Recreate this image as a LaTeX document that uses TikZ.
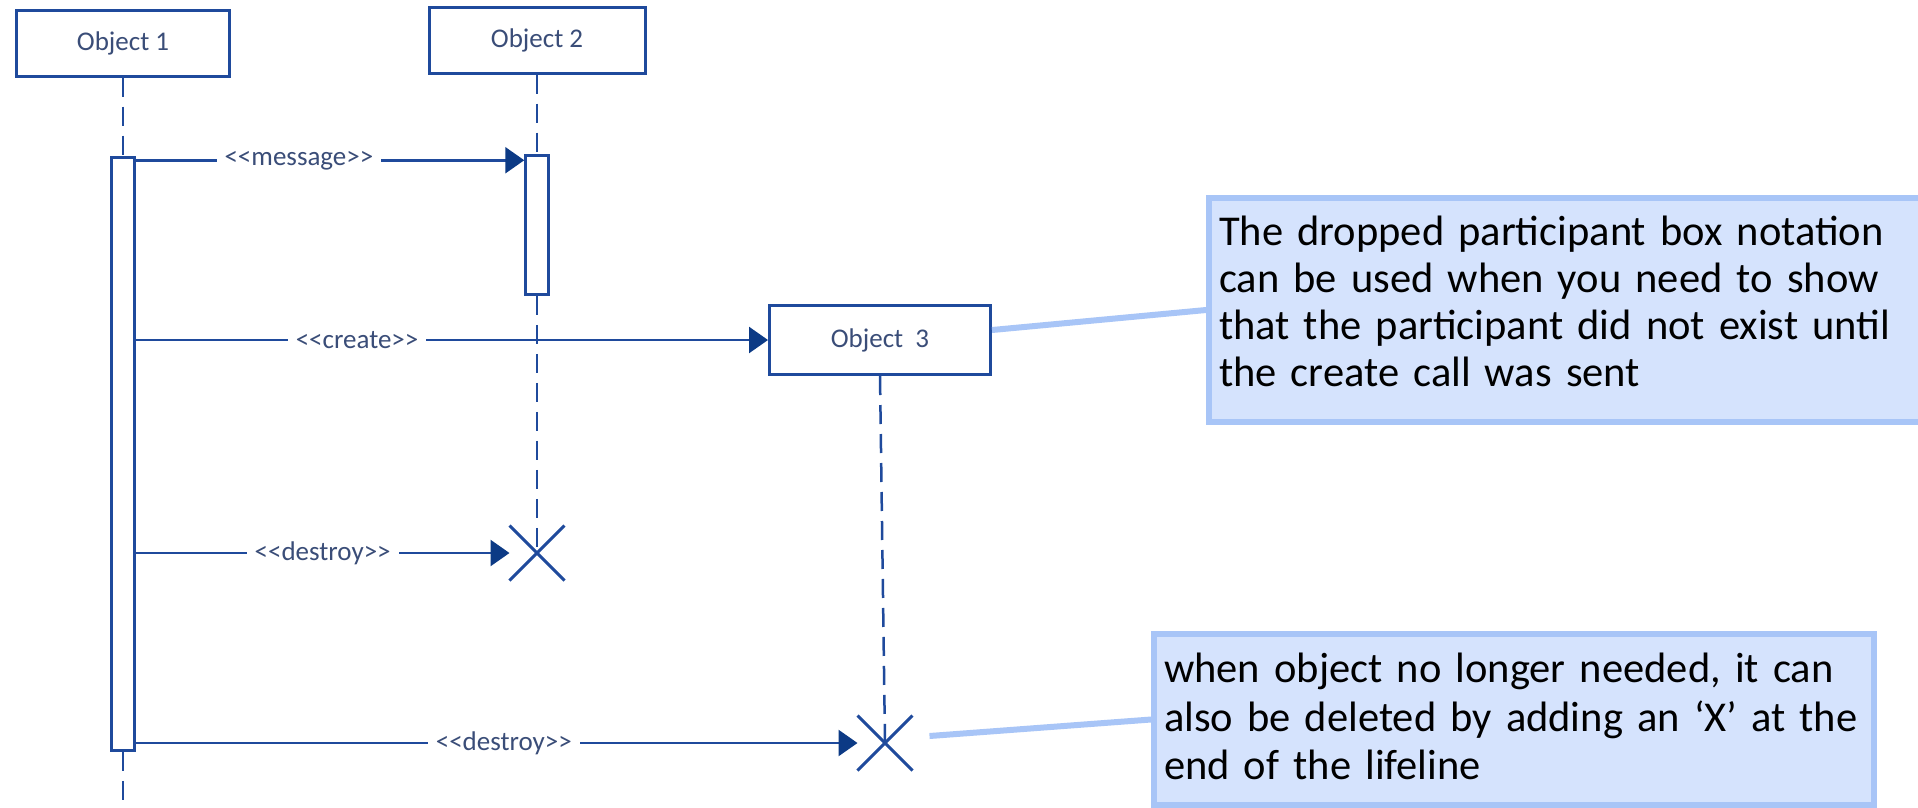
\documentclass[tikz,border=0pt]{standalone}
\usepackage{fontspec}
\setmainfont{Carlito}
\usetikzlibrary{arrows.meta,shapes.misc}

\definecolor{umlline}{HTML}{1F4A9C}
\definecolor{umltext}{HTML}{3A4D78}
\definecolor{umlhead}{HTML}{0C3A85}
\definecolor{notefill}{HTML}{D5E3FD}
\definecolor{noteedge}{HTML}{A8C5F7}

\begin{document}
\begin{tikzpicture}[x=1pt,y=-1pt,
  objbox/.style={draw=umlline, line width=3pt, fill=white, inner sep=0pt,
    font=\fontsize{27}{32}\selectfont, text=umltext},
  actbar/.style={draw=umlline, line width=2.5pt, fill=white, minimum width=23pt, inner sep=0pt},
  lifeline/.style={draw=umlline, line width=2.5pt, dash pattern=on 19pt off 10pt},
  msg/.style={draw=umlline, line width=2.5pt, -{Triangle[length=19pt,width=26pt,color=umlhead]}},
  msglabel/.style={fill=white, text=umltext, font=\fontsize{27}{32}\selectfont,
    inner xsep=8pt, inner ysep=2pt},
  destroyx/.style={cross out, draw=umlline, line width=3pt, minimum size=52pt, inner sep=0pt},
  note/.style={draw=noteedge, fill=notefill, line width=6pt, inner xsep=10pt, inner ysep=0pt,
    align=left, anchor=north west, text=black},
  notelink/.style={draw=noteedge, line width=6pt}
]
\clip (0,0) rectangle (1918,807);
\fill[white] (0,0) rectangle (1918,807);

% participants
\node[objbox, minimum width=213pt, minimum height=66pt] (obj1) at (123,43) {Object 1};
\node[objbox, minimum width=216pt, minimum height=66pt] (obj2) at (537,40) {Object 2};
\node[objbox, minimum width=221pt, minimum height=69pt] (obj3) at (880,340) {Object\ \ 3};

% activation bars
\node[actbar, minimum height=593pt] (act1) at (123,454) {};
\node[actbar, minimum height=139pt] (act2) at (537,225) {};

% destruction marks
\node[destroyx] (x1) at (537,553) {};
\node[destroyx] (x2) at (885,743) {};

% lifelines
\coordinate (l1end) at (123,807);
\draw[lifeline] (obj1.south) -- (act1.north);
\draw[lifeline] (act1.south) -- (l1end);
\draw[lifeline] (obj2.south) -- (act2.north);
\draw[lifeline] (act2.south) -- (x1.center);
\draw[lifeline] (obj3.south) -- (x2.center);

% messages
\coordinate (m1) at ([yshift=-6pt]act2.north west);
\draw[msg] (act1.east |- m1) -- node[msglabel, pos=0.42] {<{}<message>{}>} (m1);
\draw[msg] (act1.east |- obj3.west) -- node[msglabel, pos=0.35] {<{}<create>{}>} (obj3.west);
\draw[msg] (act1.east |- x1.west) -- node[msglabel, pos=0.5] {<{}<destroy>{}>} (x1.west);
\draw[msg] (act1.east |- x2.west) -- node[msglabel, pos=0.51] {<{}<destroy>{}>} (x2.west);

% notes
\node[note, font=\fontsize{42.5}{47}\selectfont, text width=700pt, minimum height=224pt]
  (note1) at (1206,195)
  {The dropped participant box notation\\
   can be used when you need to show\\
   that the participant did not exist until\\
   the create call was sent\rule[-17pt]{0pt}{17pt}};
\node[note, font=\fontsize{42.5}{48.5}\selectfont, text width=700pt, minimum height=171pt]
  (note2) at (1151,631)
  {when object no longer needed, it can\\
   also be deleted by adding an ‘X’ at the\\
   end of the lifeline\rule[-6pt]{0pt}{6pt}};

\draw[notelink] ([yshift=10pt]obj3.east) -- (note1.west);
\draw[notelink] ([xshift=17pt,yshift=7pt]x2.east) -- (note2.west);
\end{tikzpicture}
\end{document}
